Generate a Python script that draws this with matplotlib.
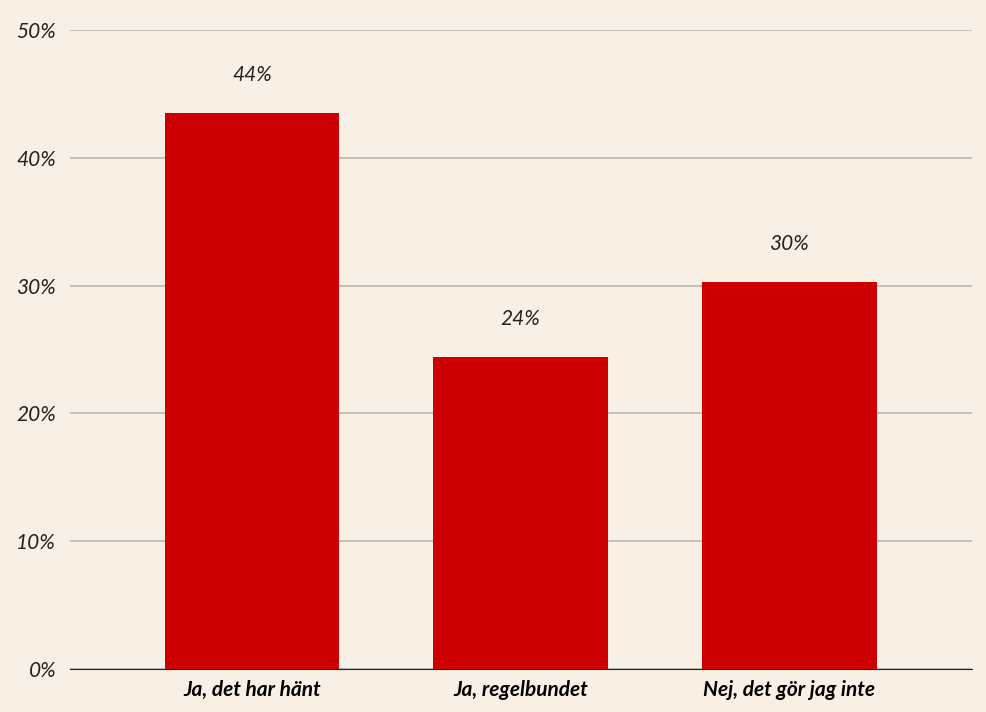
import matplotlib
matplotlib.use("Agg")
import matplotlib.pyplot as plt
from matplotlib.ticker import FuncFormatter

categories = ["Ja, det har hänt", "Ja, regelbundet", "Nej, det gör jag inte"]
values = [43.5, 24.4, 30.3]
value_labels = ["44%", "24%", "30%"]
yticks = [0, 10, 20, 30, 40, 50]

bg = "#f8efe5"
plt.rcParams['font.family'] = ['Lato', 'DejaVu Sans']
fig = plt.figure(figsize=(9.86, 7.12), dpi=100, facecolor=bg)
ax = fig.add_axes([70/986, 1-669/712, 902/986, 639/712], facecolor=bg)
x = list(range(len(categories)))
ax.bar(x, values, width=0.65, color="#cc0000", zorder=3)
for xi, v, lab in zip(x, values, value_labels):
    ax.text(xi, v + 2.2, lab, ha="center", va="bottom", fontsize=15, style="italic", color="#222222")
ax.set_xlim(-0.678, 2.68)
ax.set_ylim(0, 50)
ax.set_yticks(yticks)
ax.yaxis.set_major_formatter(FuncFormatter(lambda v, p: f"{int(v)}%"))
ax.grid(axis="y", color="#bdb6ae", linewidth=1.2, zorder=0)
for s in ["top", "right", "left"]:
    ax.spines[s].set_visible(False)
ax.spines["bottom"].set_color("#222222")
ax.tick_params(axis="y", length=0, labelsize=15, pad=10)
ax.tick_params(axis="x", length=0, labelsize=15, pad=8)
ax.set_xticks(x)
ax.set_xticklabels(categories, fontweight="bold", style="italic")
for t in ax.get_yticklabels():
    t.set_style("italic")
    t.set_color("#222222")
fig.savefig("out.png", dpi=100, facecolor=bg)
